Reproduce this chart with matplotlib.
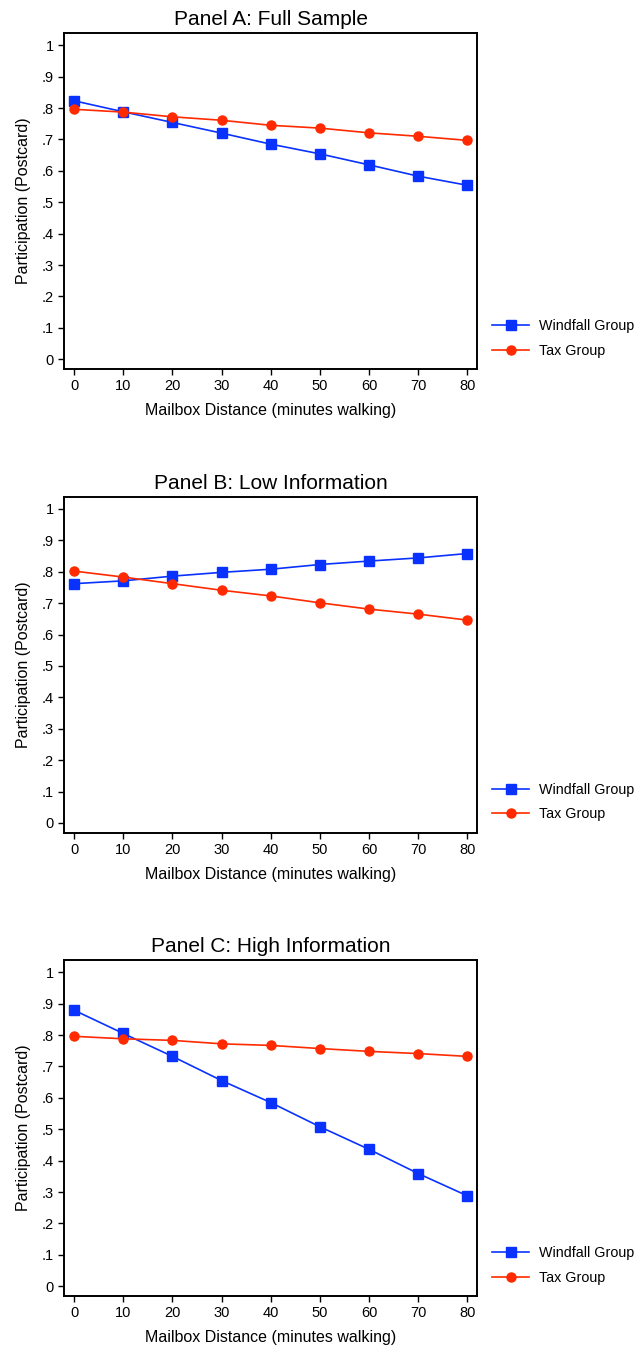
import numpy as np
import matplotlib
matplotlib.use('Agg')
import matplotlib.pyplot as plt

plt.rcParams['font.family'] = ['Liberation Sans', 'DejaVu Sans']

# data
distance = [0, 10, 20, 30, 40, 50, 60, 70, 80]

windfall_a = [0.823, 0.788, 0.754, 0.720, 0.685, 0.654, 0.619, 0.583, 0.554]
tax_a = [0.796, 0.787, 0.772, 0.761, 0.745, 0.736, 0.721, 0.710, 0.697]

windfall_b = [0.762, 0.771, 0.786, 0.798, 0.808, 0.823, 0.834, 0.844, 0.858]
tax_b = [0.802, 0.783, 0.762, 0.741, 0.723, 0.701, 0.681, 0.665, 0.646]

windfall_c = [0.879, 0.805, 0.732, 0.655, 0.585, 0.508, 0.436, 0.359, 0.288]
tax_c = [0.796, 0.788, 0.783, 0.772, 0.767, 0.757, 0.748, 0.741, 0.732]

titles = ['Panel A: Full Sample', 'Panel B: Low Information', 'Panel C: High Information']
ytick_vals = [0, 0.1, 0.2, 0.3, 0.4, 0.5, 0.6, 0.7, 0.8, 0.9, 1.0]
ytick_labels = ['0', '.1', '.2', '.3', '.4', '.5', '.6', '.7', '.8', '.9', '1']

blue = '#0a32ff'
red = '#ff2a00'

fig = plt.figure(figsize=(6.37, 13.48), dpi=100)
bottoms = [0.7263, 0.3823, 0.0386]
panels = [(windfall_a, tax_a), (windfall_b, tax_b), (windfall_c, tax_c)]

for k in range(3):
    ax = fig.add_axes([0.101, bottoms[k], 0.648, 0.249])
    w, t = panels[k]
    ax.plot(distance, w, color=blue, marker='s', markersize=6.5, lw=1.2, label='Windfall Group')
    ax.plot(distance, t, color=red, marker='o', markersize=6.5, lw=1.2, label='Tax Group')
    ax.set_xlim(-2, 82)
    ax.set_ylim(-0.031, 1.038)
    ax.set_xticks(distance)
    ax.set_yticks(ytick_vals)
    ax.set_yticklabels(ytick_labels)
    ax.tick_params(direction='out', length=4, width=1, labelsize=10.5, color='black')
    for s in ax.spines.values():
        s.set_linewidth(1.4)
        s.set_color('black')
    ax.set_title(titles[k], fontsize=15, pad=6)
    ax.set_xlabel('Mailbox Distance (minutes walking)', fontsize=11.5, labelpad=7)
    ax.set_ylabel('Participation (Postcard)', fontsize=11.5, labelpad=8)
    ax.legend(loc='lower left', bbox_to_anchor=(1.005, -0.005), frameon=False,
              fontsize=10.3, handlelength=2.6, handletextpad=0.7, labelspacing=0.75)

fig.savefig('out.png', dpi=100)
